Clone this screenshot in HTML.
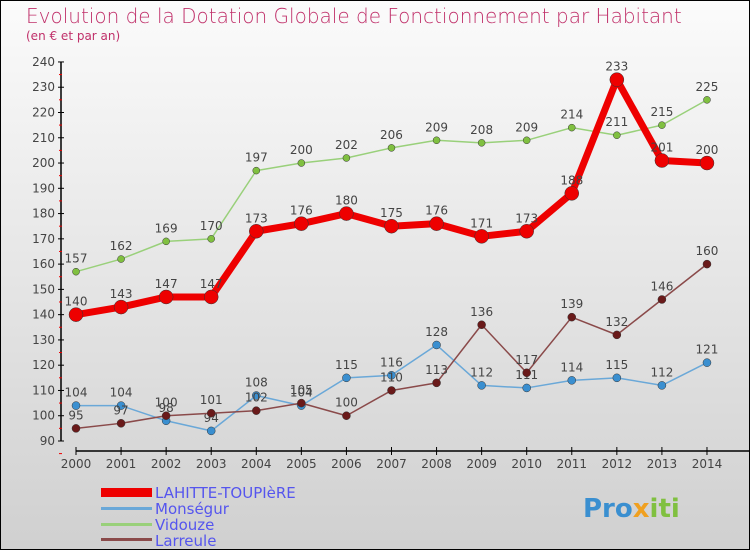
<!DOCTYPE html>
<html><head><meta charset="utf-8"><style>
body{margin:0}
#c{width:748px;height:548px;border:1px solid #000;background:linear-gradient(#fbfbfb,#d0d0d0);position:relative;font-family:"DejaVu Sans","Liberation Sans",sans-serif;overflow:hidden}
</style></head><body>
<div id="c">
<svg id="s" width="748" height="548" style="position:absolute;left:0;top:0">
<text x="25" y="22" font-size="20" fill="#c0306a" font-family="DejaVu Sans,sans-serif" font-weight="200">Evolution de la Dotation Globale de Fonctionnement par Habitant</text>
<text x="25" y="39" font-size="12" fill="#c0306a">(en € et par an)</text>
<g id="axes"></g><g id="series"></g>
<g font-size="15" fill="#5555ee">
<rect x="100" y="487" width="51" height="9" fill="#e00"/>
<text x="154" y="497">LAHITTE-TOUPIèRE</text>
<rect x="100" y="506" width="51" height="3" fill="#6aa8d8"/>
<text x="154" y="513">Monségur</text>
<rect x="100" y="522" width="51" height="3" fill="#99d07a"/>
<text x="154" y="529">Vidouze</text>
<rect x="100" y="537" width="51" height="3" fill="#8a4a4a"/>
<text x="154" y="545">Larreule</text>
</g>
<g font-size="26" font-weight="bold">
<text x="582" y="516" fill="#3a8fd0">Pro<tspan fill="#f0a020">x</tspan><tspan fill="#80c040">iti</tspan></text>
</g>
</svg>
</div>
<script>
const years=[2000,2001,2002,2003,2004,2005,2006,2007,2008,2009,2010,2011,2012,2013,2014];
const lahitte=[140,143,147,147,173,176,180,175,176,171,173,188,233,201,200];
const monsegur=[104,104,98,94,108,104,115,116,128,112,111,114,115,112,121];
const vidouze=[157,162,169,170,197,200,202,206,209,208,209,214,211,215,225];
const larreule=[95,97,100,101,102,105,100,110,113,136,117,139,132,146,160];
const yTicks=[90,100,110,120,130,140,150,160,170,180,190,200,210,220,230,240];
const NS="http://www.w3.org/2000/svg";
const xs=i=>75+i*45.07, ys=v=>440-(v-90)*2.527;
function mk(t,a,p){const e=document.createElementNS(NS,t);for(const k in a)e.setAttribute(k,a[k]);p.appendChild(e);return e;}
const ax=document.getElementById('axes'),sg=document.getElementById('series');
let l=mk('line',{x1:60,y1:61,x2:60,y2:440,stroke:'#000','stroke-width':1.5},ax);

yTicks.forEach(v=>{const y=ys(v);mk('line',{x1:57,x2:63,y1:y,y2:y,stroke:'#000'},ax);
 mk('line',{x1:58,x2:61,y1:y+12.6,y2:y+12.6,stroke:'#e00'},ax);
 const t=mk('text',{x:54,y:y+4,'font-size':12,fill:'#444','text-anchor':'end'},ax);t.textContent=v;
 });
l=mk('line',{x1:75,y1:450,x2:748,y2:450,stroke:'#000','stroke-width':1.5},ax);

years.forEach((yr,i)=>{const x=xs(i);mk('line',{x1:x,x2:x,y1:446,y2:454,stroke:'#000'},ax);
 const t=mk('text',{x:x,y:467,'font-size':12,fill:'#444','text-anchor':'middle'},ax);t.textContent=yr;
 });
function series(d,col,dot,w,r,name){const g=mk('g',{},sg);
 mk('polyline',{points:d.map((v,i)=>xs(i)+','+ys(v)).join(' '),fill:'none',stroke:col,'stroke-width':w,'stroke-linejoin':'round'},g);
 d.forEach((v,i)=>{const c=mk('circle',{cx:xs(i),cy:ys(v),r:r,fill:dot,stroke:'#333','stroke-width':0.5},g);
  
  const t=mk('text',{x:xs(i),y:ys(v)-9,'font-size':12,fill:'#444','text-anchor':'middle'},g);t.textContent=v;
  });}
series(vidouze,'#99d07a','#80c040',1.5,3.5,'vidouze');
series(monsegur,'#6aa8d8','#3a8fd0',1.5,4,'monsegur');
series(larreule,'#8a4a4a','#6a1a1a',1.5,4,'larreule');
series(lahitte,'#e00','#e00',7,7,'lahitte');
</script>
</body></html>
